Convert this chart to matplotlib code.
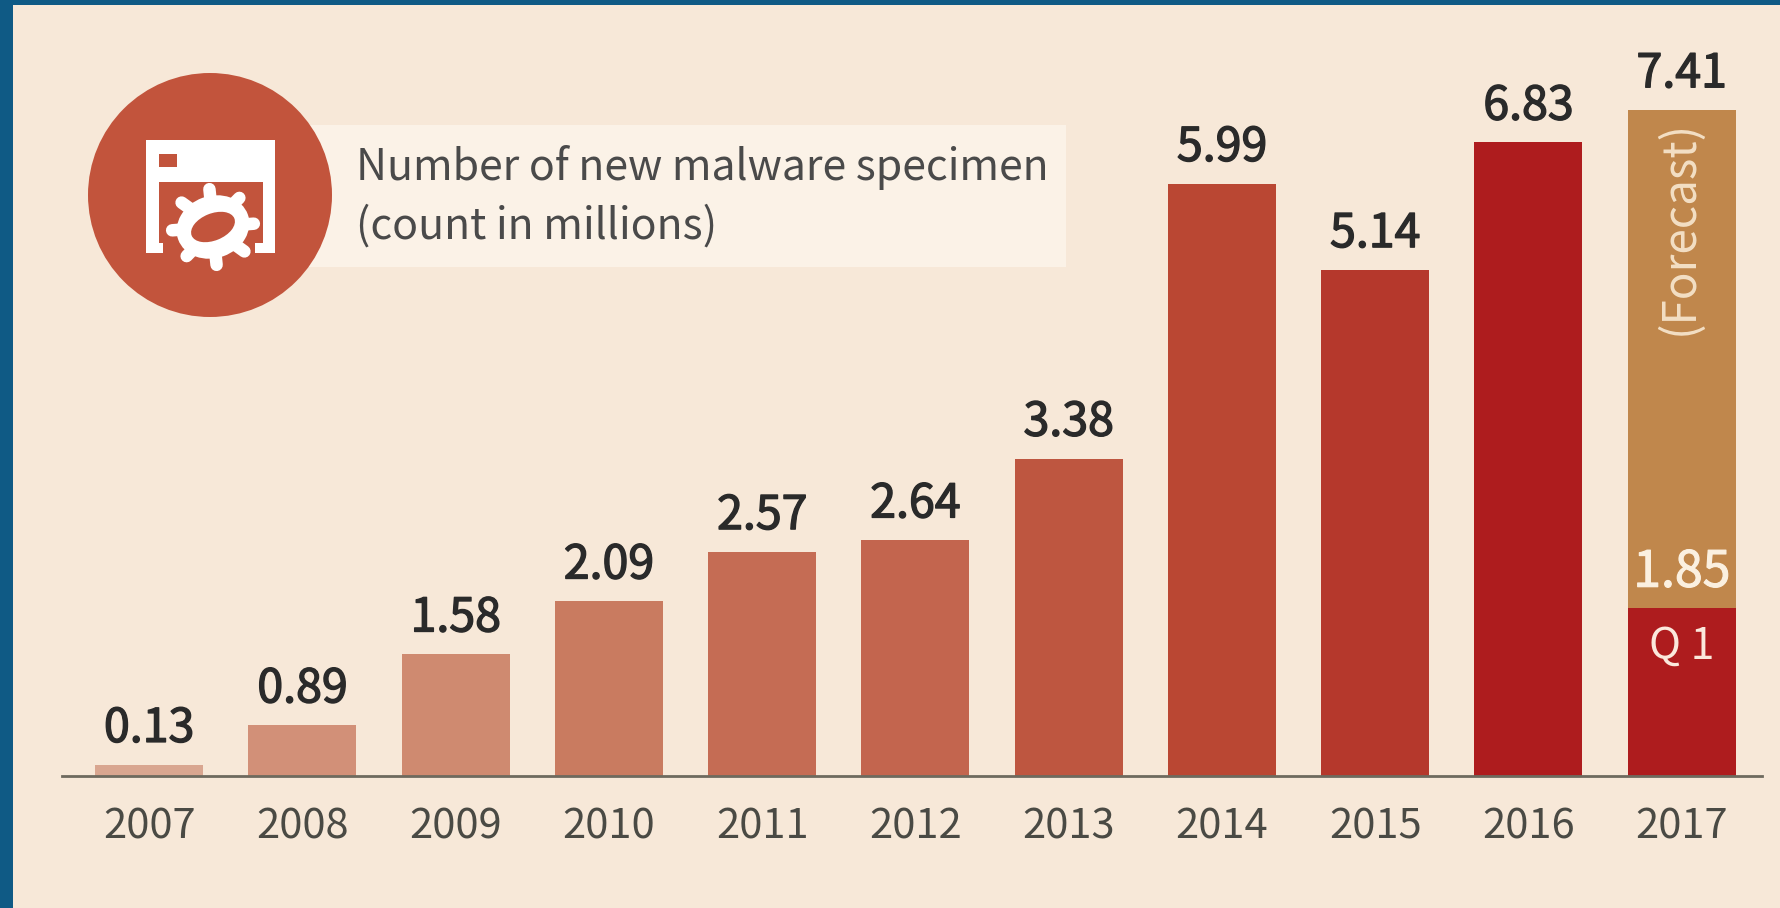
import matplotlib
matplotlib.use("Agg")
import matplotlib.pyplot as plt
import matplotlib.patheffects as pe
from matplotlib.patches import Circle, Rectangle, Ellipse
import numpy as np

years = ["2007", "2008", "2009", "2010", "2011", "2012", "2013", "2014", "2015", "2016", "2017"]
value_labels = ["0.13", "0.89", "1.58", "2.09", "2.57", "2.64", "3.38", "5.99", "5.14", "6.83", "7.41"]
# The published bars are not strictly proportional to their labels: heights are read off the picture.
bar_heights = [0.12, 0.56, 1.35, 1.94, 2.49, 2.62, 3.53, 6.59, 5.63, 7.05, 7.41]
q1_height = 1.86
q1_label = "1.85"
bar_colors = ["#D9A690", "#D29078", "#CF8A70", "#C97B60", "#C56C54", "#C3654E",
              "#BE5640", "#BA4733", "#B5382C", "#AE1C1E", "#C0874C"]
q1_color = "#AE1C1E"

FONT = ["Noto Sans CJK SC", "DejaVu Sans"]
plt.rcParams["font.family"] = FONT
W, H = 1781, 908
BG, EDGE = "#F7E8D8", "#0F5A85"
fig = plt.figure(figsize=(W / 100, H / 100), dpi=100, facecolor=EDGE)

# overlay in pixel coordinates for panel and icon
ov = fig.add_axes([0, 0, 1, 1], zorder=0)
ov.set_xlim(0, W); ov.set_ylim(H, 0); ov.axis("off")
ov.add_patch(Rectangle((13, 5), W - 13, H - 5, fc=BG, ec="none"))
ov.add_patch(Rectangle((275, 125), 791, 142, fc="#FBF2E7", ec="none"))
RED = "#C2543C"
ov.add_patch(Circle((210, 195), 122, fc=RED, ec="none", zorder=3))
ov.add_patch(Rectangle((146, 140), 129, 113, fc="white", ec="none", zorder=4))
ov.add_patch(Rectangle((159, 154), 18, 13, fc=RED, ec="none", zorder=5))
ov.add_patch(Rectangle((159, 182), 104, 61, fc=RED, ec="none", zorder=5))
ov.add_patch(Rectangle((163, 243), 92, 11, fc=RED, ec="none", zorder=5))
# gear
gc = np.array((213, 227))
ov.add_patch(Ellipse(gc, 74, 62, angle=-20, fc="white", ec="none", zorder=7))
for deg in np.arange(0, 360, 45) - 5:
    a = np.deg2rad(deg)
    d = np.array([np.cos(a), np.sin(a)])
    p0 = gc + d * 20
    p1 = gc + np.array([d[0] * 41, d[1] * 38])
    ov.plot([p0[0], p1[0]], [p0[1], p1[1]], color="white", lw=9, solid_capstyle="round", zorder=7)
ov.add_patch(Ellipse(gc, 46, 27, angle=-22, fc=RED, ec="none", zorder=8))
ov.text(356, 168, "Number of new malware specimen", fontsize=30.8, color="#4A4A4A", va="center", ha="left")
ov.text(356, 227, "(count in millions)", fontsize=30.8, color="#4A4A4A", va="center", ha="left")

# chart axes
ax = fig.add_axes([62 / W, (H - 775.5) / H, 1700 / W, 770.5 / H], zorder=2)
ax.patch.set_alpha(0)
ax.set_xlim((62 - 149.2) / 153.25, (1762 - 149.2) / 153.25)
ax.set_ylim(0, 770.5 / 89.8)
for s in ["top", "left", "right"]:
    ax.spines[s].set_visible(False)
ax.spines["bottom"].set_color("#6E6A5E")
ax.spines["bottom"].set_linewidth(2)
x = np.arange(len(years))
ax.bar(x, bar_heights, width=108 / 153.25, color=bar_colors, linewidth=0)
ax.bar(x[-1], q1_height, width=108 / 153.25, color=q1_color, linewidth=0)
ax.set_xticks(x, years, fontsize=30, color="#4A4A44")
ax.tick_params(axis="x", length=0, pad=22)
ax.set_yticks([])
for xi, h, lab in zip(x, bar_heights, value_labels):
    t = ax.annotate(lab, (xi, h), xytext=(0, 8.5), textcoords="offset points", ha="center", va="bottom",
                    fontsize=33.5, color="#2A2A2A")
    t.set_path_effects([pe.withStroke(linewidth=1.0, foreground="#2A2A2A")])
t = ax.annotate(q1_label, (x[-1], q1_height), xytext=(0, 7), textcoords="offset points", ha="center", va="bottom",
                fontsize=36, color="#FBF0E0")
t.set_path_effects([pe.withStroke(linewidth=0.8, foreground="#FBF0E0")])
ax.annotate("Q 1", (x[-1], q1_height), xytext=(0, -12), textcoords="offset points", ha="center", va="top",
            fontsize=31, color="#FBE8DC")
ax.annotate("(Forecast)", (x[-1], bar_heights[-1]), xytext=(-2, -7), textcoords="offset points", ha="center", va="top",
            rotation=90, fontsize=33, color="#F3DFC4")
fig.savefig("out.png", dpi=100, facecolor=EDGE)
